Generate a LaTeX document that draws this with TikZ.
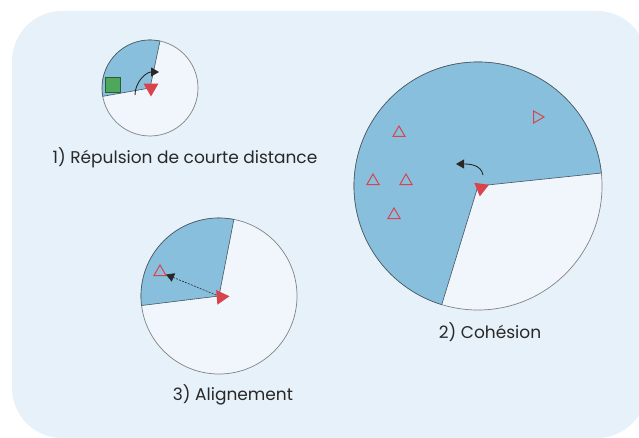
\documentclass[tikz,border=0pt]{standalone}
\usepackage{fontspec}
\setmainfont{Poppins}
\usepackage{xcolor}
\usetikzlibrary{arrows.meta}
\usetikzlibrary{shapes,shapes.geometric}
\usetikzlibrary{backgrounds}
\pgfdeclarelayer{edgelayer}
\pgfdeclarelayer{nodelayer}
\pgfsetlayers{background,edgelayer,nodelayer,main}
\definecolor{bgblue}{RGB}{231,241,249}
\definecolor{fovblue}{RGB}{136,191,221}
\definecolor{agentred}{RGB}{217,67,75}
\definecolor{wallgreen}{RGB}{78,168,92}
\definecolor{rimgray}{RGB}{130,130,130}
\definecolor{edgegray}{RGB}{70,86,96}
\definecolor{inkgray}{RGB}{40,40,40}
\tikzstyle{none}=[inner sep=0mm]
\tikzstyle{zone}=[circle,draw=rimgray,line width=0.7pt,fill={rgb,255:red,240;green,246;blue,251},inner sep=0pt]
\tikzstyle{fov}=[fill=fovblue,draw=edgegray,line width=0.6pt]
\tikzstyle{agent}=[regular polygon,regular polygon sides=3,fill=agentred,inner sep=0pt,minimum size=17pt]
\tikzstyle{mate}=[regular polygon,regular polygon sides=3,draw=agentred,line width=1pt,inner sep=0pt,minimum size=14pt]
\tikzstyle{wall}=[rectangle,fill=wallgreen,draw=wallgreen!55!black,line width=0.6pt,minimum size=15pt,inner sep=0pt]
\tikzstyle{steer}=[-{Triangle[length=8pt,width=9pt]},line width=0.9pt,draw=inkgray]
\tikzstyle{follow}=[steer,line width=0.6pt,dash pattern=on 2pt off 1.2pt]
\tikzstyle{labeltext}=[font=\fontsize{17}{20}\selectfont,text=inkgray]

\begin{document}
\begin{tikzpicture}[x=1pt,y=1pt]
	\useasboundingbox (0,0) rectangle (639,437);
	\begin{pgfonlayer}{background}
		\fill [bgblue, rounded corners=50pt] (12,-1) rectangle (647,426);
	\end{pgfonlayer}
	% 1) repulsion
	\node [style=zone, minimum size=96pt] (c1) at (150,349) {};
	\fill [style=fov] (c1.center) -- ++(78:48) arc [start angle=78, end angle=190, radius=48] -- cycle;
	\node [style=wall] (w1) at (113,352) {};
	\node [style=agent, rotate=180] (a1) at (151,349) {};
	\coordinate (s1) at (135,342);
	\coordinate (e1) at (159,365);
	\draw [style=steer] (s1) to [out=90, in=180] (e1);
	\node [style=labeltext] (t1) at (185,279) {1) Répulsion de courte distance};
	% 3) alignement
	\node [style=zone, minimum size=156pt] (c3) at (219,141) {};
	\fill [style=fov] (c3.center) -- ++(79:78) arc [start angle=79, end angle=187, radius=78] -- cycle;
	\node [style=agent, rotate=-85] (a3) at (221,140) {};
	\node [style=mate] (m3) at (160,165) {};
	\draw [style=follow] (a3) -- (m3);
	\node [style=labeltext] (t3) at (233,42) {3) Alignement};
	% 2) cohesion
	\node [style=zone, minimum size=248pt] (c2) at (478,251) {};
	\fill [style=fov] (c2.center) -- ++(6:124) arc [start angle=6, end angle=253, radius=124] -- cycle;
	\node [style=agent, rotate=172] (a2) at (481,249) {};
	\node [style=mate, rotate=-90] (m2a) at (537,320) {};
	\node [style=mate] (m2b) at (399,304) {};
	\node [style=mate] (m2c) at (373,256) {};
	\node [style=mate] (m2d) at (406,256) {};
	\node [style=mate] (m2e) at (394,222) {};
	\coordinate (s2) at (483,262);
	\coordinate (e2) at (456,273);
	\draw [style=steer] (s2) to [out=100, in=0] (e2);
	\node [style=labeltext] (t2) at (490,105) {2) Cohésion};
\end{tikzpicture}
\end{document}
